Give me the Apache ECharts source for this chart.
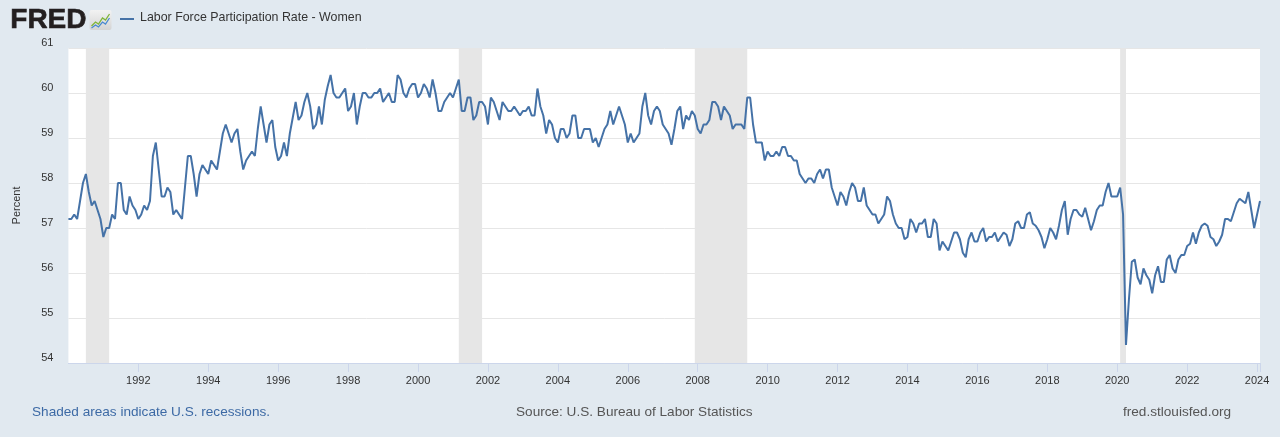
<!DOCTYPE html>
<html>
<head>
<meta charset="utf-8">
<script src="https://cdn.jsdelivr.net/npm/echarts@6/dist/echarts.min.js"></script>
<style>
html,body{margin:0;padding:0;background:#e1e9f0;}
#c{width:1280px;height:437px;}
</style>
</head>
<body>
<div id="c"></div>
<script>
// Monthly data starting 1990-01
var startYear = 1990;
var seriesName = 'Labor Force Participation Rate - Women';
var values = [
 57.2,57.2,57.3,57.2,57.6,58.0,58.2,57.8,57.5,57.6,57.4,57.2,
 56.8,57.0,57.0,57.3,57.2,58.0,58.0,57.4,57.3,57.7,57.5,57.4,
 57.2,57.3,57.5,57.4,57.6,58.6,58.9,58.3,57.7,57.7,57.9,57.8,
 57.3,57.4,57.3,57.2,57.9,58.6,58.6,58.2,57.7,58.2,58.4,58.3,
 58.2,58.5,58.4,58.3,58.7,59.1,59.3,59.1,58.9,59.1,59.2,58.7,
 58.3,58.5,58.6,58.7,58.6,59.2,59.7,59.3,58.9,59.3,59.4,58.8,
 58.5,58.6,58.9,58.6,59.1,59.45,59.8,59.4,59.5,59.8,60.0,59.7,
 59.2,59.3,59.7,59.3,59.85,60.15,60.4,60.0,59.9,59.9,60.0,60.1,
 59.6,59.7,60.0,59.3,59.7,60.0,60.0,59.9,59.9,60.0,60.0,60.1,
 59.8,59.9,60.0,59.8,59.8,60.4,60.3,60.0,59.9,60.1,60.2,60.2,
 59.9,60.0,60.2,60.1,59.9,60.3,60.0,59.6,59.6,59.8,59.9,60.0,
 59.9,60.1,60.3,59.6,59.6,59.9,59.9,59.4,59.5,59.8,59.8,59.7,
 59.3,59.9,59.8,59.6,59.4,59.8,59.7,59.6,59.6,59.7,59.6,59.5,
 59.6,59.6,59.7,59.5,59.5,60.1,59.7,59.5,59.1,59.4,59.3,59.0,
 58.9,59.2,59.2,59.0,59.1,59.5,59.5,59.0,59.0,59.2,59.2,59.2,
 58.9,59.0,58.8,59.0,59.2,59.3,59.6,59.3,59.5,59.7,59.5,59.3,
 58.9,59.1,58.9,59.0,59.1,59.7,60.0,59.5,59.3,59.6,59.7,59.6,
 59.3,59.2,59.1,58.85,59.2,59.6,59.7,59.2,59.5,59.4,59.6,59.5,
 59.2,59.1,59.3,59.3,59.4,59.8,59.8,59.7,59.4,59.7,59.6,59.5,
 59.2,59.3,59.3,59.3,59.2,59.9,59.9,59.3,58.9,58.9,58.9,58.5,
 58.7,58.6,58.6,58.7,58.6,58.8,58.8,58.6,58.6,58.5,58.5,58.2,
 58.1,58.0,58.1,58.1,58.0,58.2,58.3,58.1,58.3,58.3,57.9,57.7,
 57.5,57.8,57.7,57.5,57.8,58.0,57.9,57.6,57.6,57.9,57.5,57.4,
 57.3,57.3,57.1,57.2,57.3,57.7,57.6,57.3,57.1,57.0,57.0,56.75,
 56.8,57.2,57.1,56.9,57.1,57.1,57.2,56.8,56.8,57.2,57.1,56.5,
 56.7,56.6,56.5,56.7,56.9,56.9,56.75,56.45,56.35,56.75,56.9,56.7,
 56.7,56.9,57.0,56.7,56.8,56.8,56.9,56.7,56.8,56.9,56.85,56.6,
 56.75,57.1,57.15,57.0,57.0,57.3,57.35,57.1,57.05,56.95,56.8,56.55,
 56.75,57.0,56.9,56.75,57.05,57.4,57.6,56.85,57.2,57.4,57.4,57.3,
 57.25,57.45,57.2,56.95,57.15,57.4,57.5,57.5,57.8,58.0,57.7,57.7,
 57.7,57.9,57.3,54.4,55.4,56.25,56.3,55.9,55.75,56.1,55.95,55.85,
 55.55,55.95,56.15,55.8,55.8,56.3,56.4,56.1,56.0,56.3,56.4,56.4,
 56.6,56.65,56.9,56.65,56.9,57.05,57.1,57.05,56.8,56.75,56.6,56.7,
 56.85,57.2,57.2,57.15,57.35,57.55,57.65,57.6,57.55,57.8,57.4,57.0,
 57.3,57.6
];
var recessionStarts = ['1990-07','2001-03','2007-12','2020-02'];
var recessionEnds   = ['1991-03','2001-11','2009-06','2020-04'];
var yTicks = [54,55,56,57,58,59,60,61];
var xLabelYears = [1992,1994,1996,1998,2000,2002,2004,2006,2008,2010,2012,2014,2016,2018,2020,2022,2024];

function ym(s){ var p = s.split('-'); return +p[0] + (+p[1]-1)/12; }
var points = values.map(function(v,i){ return [startYear + i/12, v]; });
var xMax = startYear + values.length/12 - 1/12;
var areas = recessionStarts.map(function(s,i){ return [{xAxis: ym(s)},{xAxis: ym(recessionEnds[i])}]; });

var chart = echarts.init(document.getElementById('c'), null, {renderer:'canvas'});
var font = '"Liberation Sans", Arial, sans-serif';
chart.setOption({
  backgroundColor: '#e1e9f0',
  animation: false,
  grid: {left: 68.4, right: 20, top: 48, bottom: 74, show: true, backgroundColor: '#ffffff', borderWidth: 0},
  xAxis: {
    type: 'value', min: startYear, max: xMax, interval: 2,
    axisLine: {show: true, lineStyle: {color: '#ccd6eb', width: 1}},
    axisTick: {show: true, length: 9, lineStyle: {color: '#ccd6eb'}},
    splitLine: {show: false},
    axisLabel: {
      margin: 12, color: '#333', fontSize: 11, fontFamily: font,
      showMinLabel: false, showMaxLabel: true,
      formatter: function(v){ var r = Math.round(v); return (Math.abs(v-r) < 1e-6 && xLabelYears.indexOf(r) >= 0) ? String(r) : ''; }
    }
  },
  yAxis: {
    type: 'value', min: yTicks[0], max: yTicks[yTicks.length-1], interval: 1,
    name: 'Percent', nameLocation: 'middle', nameGap: 46, nameRotate: 90,
    nameTextStyle: {color: '#333', fontSize: 11, fontFamily: font},
    axisLine: {show: false}, axisTick: {show: false},
    splitLine: {show: true, lineStyle: {color: '#e6e6e6', width: 1}},
    axisLabel: {margin: 15, color: '#333', fontSize: 11, fontFamily: font, verticalAlign: 'bottom'}
  },
  series: [
    {type: 'line', data: [], z: 1, silent: true,
     markArea: {silent: true, itemStyle: {color: '#e6e6e6', opacity: 1}, data: areas}},
    {type: 'line', name: seriesName, data: points, z: 3, showSymbol: false, symbol: 'none',
     lineStyle: {color: '#4572a7', width: 2}, itemStyle: {color: '#4572a7'}}
  ],
  graphic: [
    {type: 'text', left: 10, top: 6, style: {text: 'FRED', font: 'bold 28px "Liberation Sans", Arial, sans-serif', fill: '#231f20', stroke: '#231f20', lineWidth: 0.6}},
    {type: 'group', left: 89, top: 10, children: [
      {type: 'rect', shape: {x: 0, y: 0, width: 22, height: 20, r: 2},
       style: {fill: new echarts.graphic.LinearGradient(0,0,0,1,[{offset:0,color:'#f2f2f2'},{offset:1,color:'#d4d4d4'}])}},
      {type: 'polyline', shape: {points: [[2,16],[6,12],[9,14],[13,8],[16,10],[20,4]]}, style: {stroke: '#7fb539', lineWidth: 1.3, fill: null}},
      {type: 'polyline', shape: {points: [[2,18],[6,15],[9,17],[13,12],[16,14],[20,8]]}, style: {stroke: '#4a8ad0', lineWidth: 1.3, fill: null}}
    ]},
    {type: 'line', shape: {x1: 120, y1: 19, x2: 134, y2: 19}, style: {stroke: '#4572a7', lineWidth: 2}},
    {type: 'text', left: 140, top: 12, style: {text: seriesName, font: '12.4px "Liberation Sans", Arial, sans-serif', fill: '#333'}},
    {type: 'text', left: 32, top: 405, style: {text: 'Shaded areas indicate U.S. recessions.', font: '13.6px "Liberation Sans", Arial, sans-serif', fill: '#3d6aa5'}},
    {type: 'text', left: 516, top: 405, style: {text: 'Source: U.S. Bureau of Labor Statistics', font: '13.6px "Liberation Sans", Arial, sans-serif', fill: '#555'}},
    {type: 'text', left: 1123, top: 405, style: {text: 'fred.stlouisfed.org', font: '13.6px "Liberation Sans", Arial, sans-serif', fill: '#555'}}
  ]
});
</script>
</body>
</html>
